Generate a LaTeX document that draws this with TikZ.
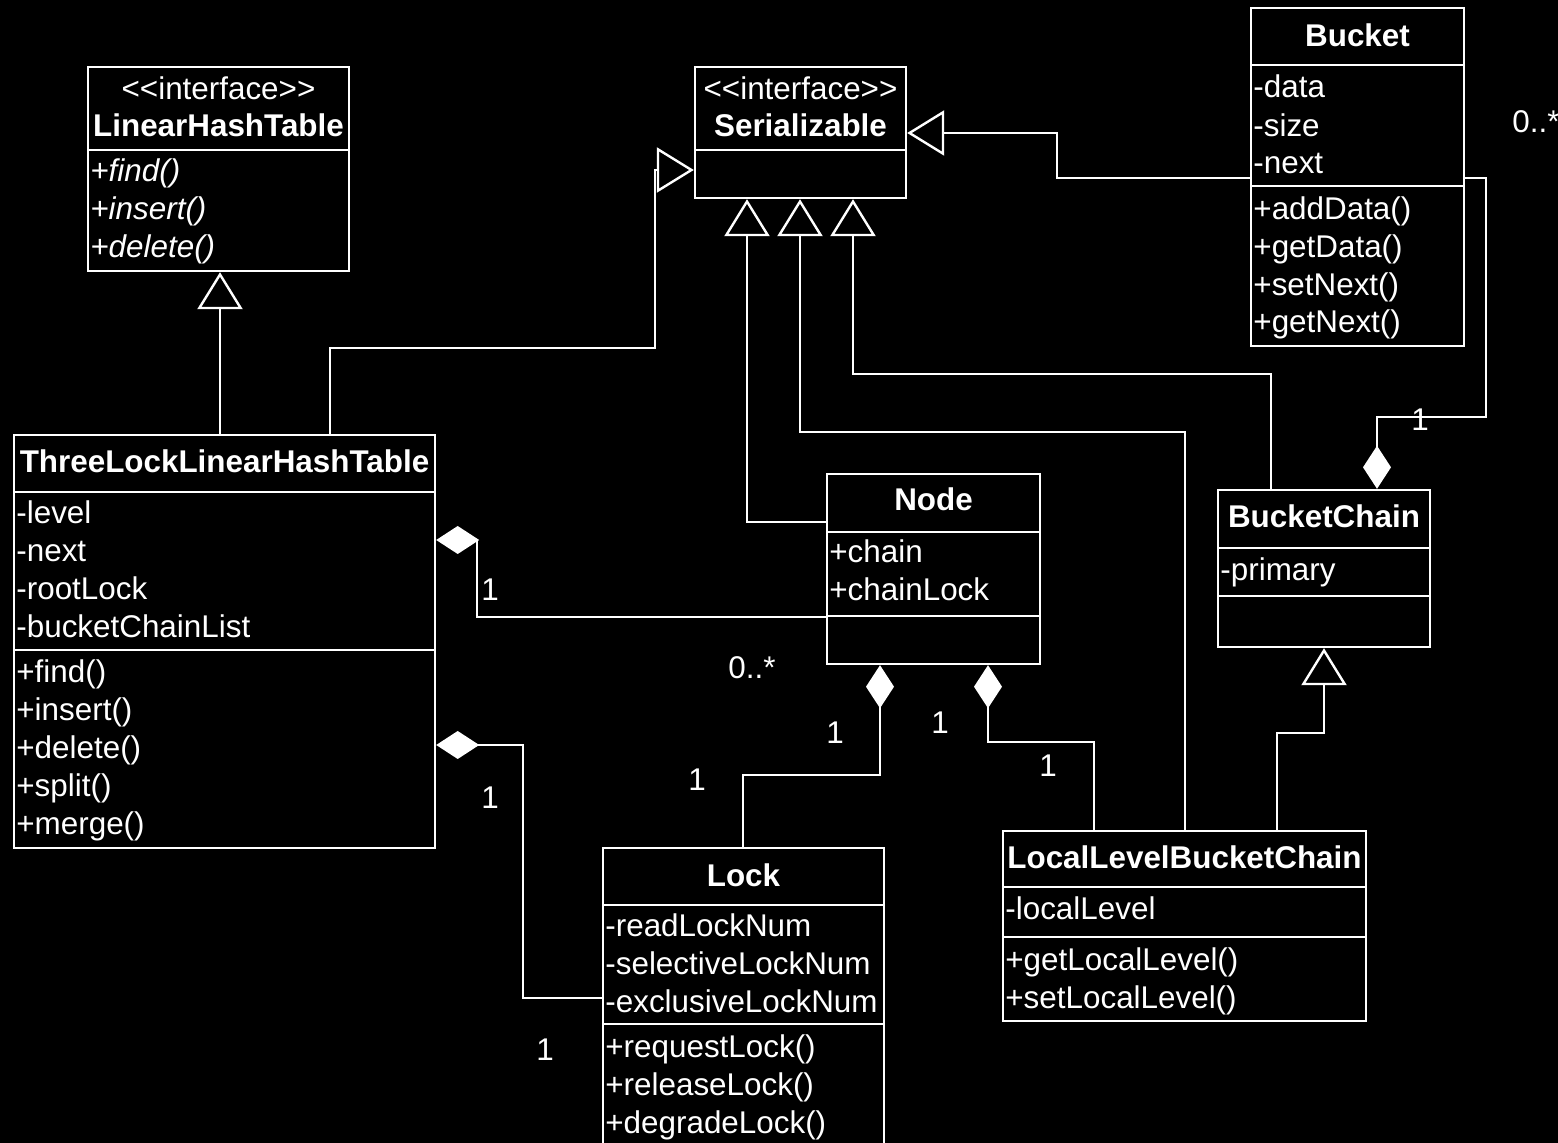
\documentclass[tikz,border=0pt]{standalone}
\usepackage{fontspec}
\setmainfont{Liberation Sans}
\usetikzlibrary{arrows.meta, fit}
\newcommand{\umlfont}{\fontsize{15.7}{19}\selectfont}

\begin{document}
\begin{tikzpicture}[
  x=0.5pt, y=-0.5pt,
  classbox/.style={draw=white, line width=1.2pt, inner sep=0pt},
  sepline/.style={draw=white, line width=1.2pt},
  titletext/.style={text=white, font=\umlfont\bfseries, anchor=base, yshift=-5.6pt, inner sep=0pt},
  stereotext/.style={text=white, font=\umlfont, anchor=base, yshift=-5.6pt, inner sep=0pt},
  membertext/.style={text=white, font=\umlfont, anchor=base west, yshift=-5.6pt, inner sep=0pt},
  multtext/.style={text=white, font=\umlfont, inner sep=0pt},
  realize/.style={draw=white, line width=1.2pt, -{Triangle[open, length=18.5pt, width=22.5pt]}},
  compose/.style={draw=white, line width=1.2pt, {Diamond[length=21.5pt, width=14pt]}-}
]
  \useasboundingbox (0,0) rectangle (1558,1143);
  \fill[black] (0,0) rectangle (1558,1143);

  % LinearHashTable
  \begin{scope}[shift={(88,67)}]
    \node[classbox, fit={(0,0) (261,204)}] (lht) {};
    \draw[sepline] (0,83) -- (261,83);
    \node[stereotext] (lht-st) at (130.5,21) {<{}<interface>{}>};
    \node[titletext] (lht-t) at (130.5,58) {LinearHashTable};
    \node[membertext, font=\umlfont\itshape] (lht-m1) at (2,103) {+find()};
    \node[membertext, font=\umlfont\itshape] (lht-m2) at (2,141) {+insert()};
    \node[membertext, font=\umlfont\itshape] (lht-m3) at (2,179) {+delete()};
  \end{scope}

  % Serializable
  \begin{scope}[shift={(695,67)}]
    \node[classbox, fit={(0,0) (211,131)}] (ser) {};
    \draw[sepline] (0,83) -- (211,83);
    \node[stereotext] (ser-st) at (105.5,21) {<{}<interface>{}>};
    \node[titletext] (ser-t) at (105.5,58) {Serializable};
  \end{scope}

  % Bucket
  \begin{scope}[shift={(1251,8)}]
    \node[classbox, fit={(0,0) (213,338)}] (bkt) {};
    \draw[sepline] (0,57) -- (213,57);
    \draw[sepline] (0,178) -- (213,178);
    \node[titletext] (bkt-t) at (106.5,27) {Bucket};
    \node[membertext] (bkt-a1) at (2,78) {-data};
    \node[membertext] (bkt-a2) at (2,117) {-size};
    \node[membertext] (bkt-a3) at (2,154) {-next};
    \node[membertext] (bkt-m1) at (2,200) {+addData()};
    \node[membertext] (bkt-m2) at (2,238) {+getData()};
    \node[membertext] (bkt-m3) at (2,276) {+setNext()};
    \node[membertext] (bkt-m4) at (2,313) {+getNext()};
  \end{scope}

  % ThreeLockLinearHashTable
  \begin{scope}[shift={(14,435)}]
    \node[classbox, fit={(0,0) (421,413)}] (tlht) {};
    \draw[sepline] (0,57) -- (421,57);
    \draw[sepline] (0,215) -- (421,215);
    \node[titletext] (tlht-t) at (210.5,26) {ThreeLockLinearHashTable};
    \node[membertext] (tlht-a1) at (2,77) {-level};
    \node[membertext] (tlht-a2) at (2,115) {-next};
    \node[membertext] (tlht-a3) at (2,153) {-rootLock};
    \node[membertext] (tlht-a4) at (2,191) {-bucketChainList};
    \node[membertext] (tlht-m1) at (2,236) {+find()};
    \node[membertext] (tlht-m2) at (2,274) {+insert()};
    \node[membertext] (tlht-m3) at (2,312) {+delete()};
    \node[membertext] (tlht-m4) at (2,350) {+split()};
    \node[membertext] (tlht-m5) at (2,388) {+merge()};
  \end{scope}

  % Node
  \begin{scope}[shift={(827,474)}]
    \node[classbox, fit={(0,0) (213,190)}] (nd) {};
    \draw[sepline] (0,58) -- (213,58);
    \draw[sepline] (0,142) -- (213,142);
    \node[titletext] (nd-t) at (106.5,25) {Node};
    \node[membertext] (nd-a1) at (2,77) {+chain};
    \node[membertext] (nd-a2) at (2,115) {+chainLock};
  \end{scope}

  % BucketChain
  \begin{scope}[shift={(1218,490)}]
    \node[classbox, fit={(0,0) (212,157)}] (bch) {};
    \draw[sepline] (0,58) -- (212,58);
    \draw[sepline] (0,106) -- (212,106);
    \node[titletext] (bch-t) at (106,26) {BucketChain};
    \node[membertext] (bch-a1) at (2,79) {-primary};
  \end{scope}

  % Lock
  \begin{scope}[shift={(603,848)}]
    \node[classbox, fit={(0,0) (281,320)}] (lck) {};
    \draw[sepline] (0,57) -- (281,57);
    \draw[sepline] (0,176) -- (281,176);
    \node[titletext] (lck-t) at (140.5,27) {Lock};
    \node[membertext] (lck-a1) at (2,77) {-readLockNum};
    \node[membertext] (lck-a2) at (2,115) {-selectiveLockNum};
    \node[membertext] (lck-a3) at (2,153) {-exclusiveLockNum};
    \node[membertext] (lck-m1) at (2,198) {+requestLock()};
    \node[membertext] (lck-m2) at (2,236) {+releaseLock()};
    \node[membertext] (lck-m3) at (2,274) {+degradeLock()};
  \end{scope}

  % LocalLevelBucketChain
  \begin{scope}[shift={(1003,831)}]
    \node[classbox, fit={(0,0) (363,190)}] (llbc) {};
    \draw[sepline] (0,56) -- (363,56);
    \draw[sepline] (0,106) -- (363,106);
    \node[titletext] (llbc-t) at (181.5,26) {LocalLevelBucketChain};
    \node[membertext] (llbc-a1) at (2,77) {-localLevel};
    \node[membertext] (llbc-m1) at (2,128) {+getLocalLevel()};
    \node[membertext] (llbc-m2) at (2,166) {+setLocalLevel()};
  \end{scope}

  % realizations / generalizations
  \draw[realize] (tlht.north -| 220,0) -- (lht.south -| 220,0);
  \draw[realize] (tlht.north -| 330,0) -- (330,348) -- (655,348) -- (655,170) -- (ser.west |- 0,170);
  \draw[realize] (bkt.west |- 0,178) -- (1057,178) -- (1057,133) -- (ser.east |- 0,133);
  \draw[realize] (nd.west |- 0,522) -| (ser.south -| 747,0);
  \draw[realize] (llbc.north -| 1185,0) |- (800,432) -- (ser.south -| 800,0);
  \draw[realize] (bch.north -| 1271,0) |- (853,374) -- (ser.south -| 853,0);
  \draw[realize] (llbc.north -| 1277,0) |- (1324,733) -- (bch.south -| 1324,0);

  % compositions
  \draw[compose] (bch.north -| 1377,0) -- (1377,417) -- (1486,417) -- (1486,178) -- (bkt.east |- 0,178);
  \draw[compose] (tlht.east |- 0,540) -- (477,540) |- (nd.west |- 0,617);
  \draw[compose] (tlht.east |- 0,745) -- (523,745) |- (lck.west |- 0,998);
  \draw[compose] (nd.south -| 880,0) -- (880,775) -| (lck.north -| 743,0);
  \draw[compose] (nd.south -| 988,0) -- (988,742) -| (llbc.north -| 1094,0);

  % multiplicities
  \node[multtext] (mu1) at (1420,420) {1};
  \node[multtext, anchor=west] (mu2) at (1512,122) {0..*};
  \node[multtext] (mu3) at (490,590) {1};
  \node[multtext] (mu4) at (752,668) {0..*};
  \node[multtext] (mu5) at (490,798) {1};
  \node[multtext] (mu6) at (545,1050) {1};
  \node[multtext] (mu7) at (835,733) {1};
  \node[multtext] (mu8) at (697,780) {1};
  \node[multtext] (mu9) at (940,723) {1};
  \node[multtext] (mu10) at (1048,766) {1};
\end{tikzpicture}
\end{document}
